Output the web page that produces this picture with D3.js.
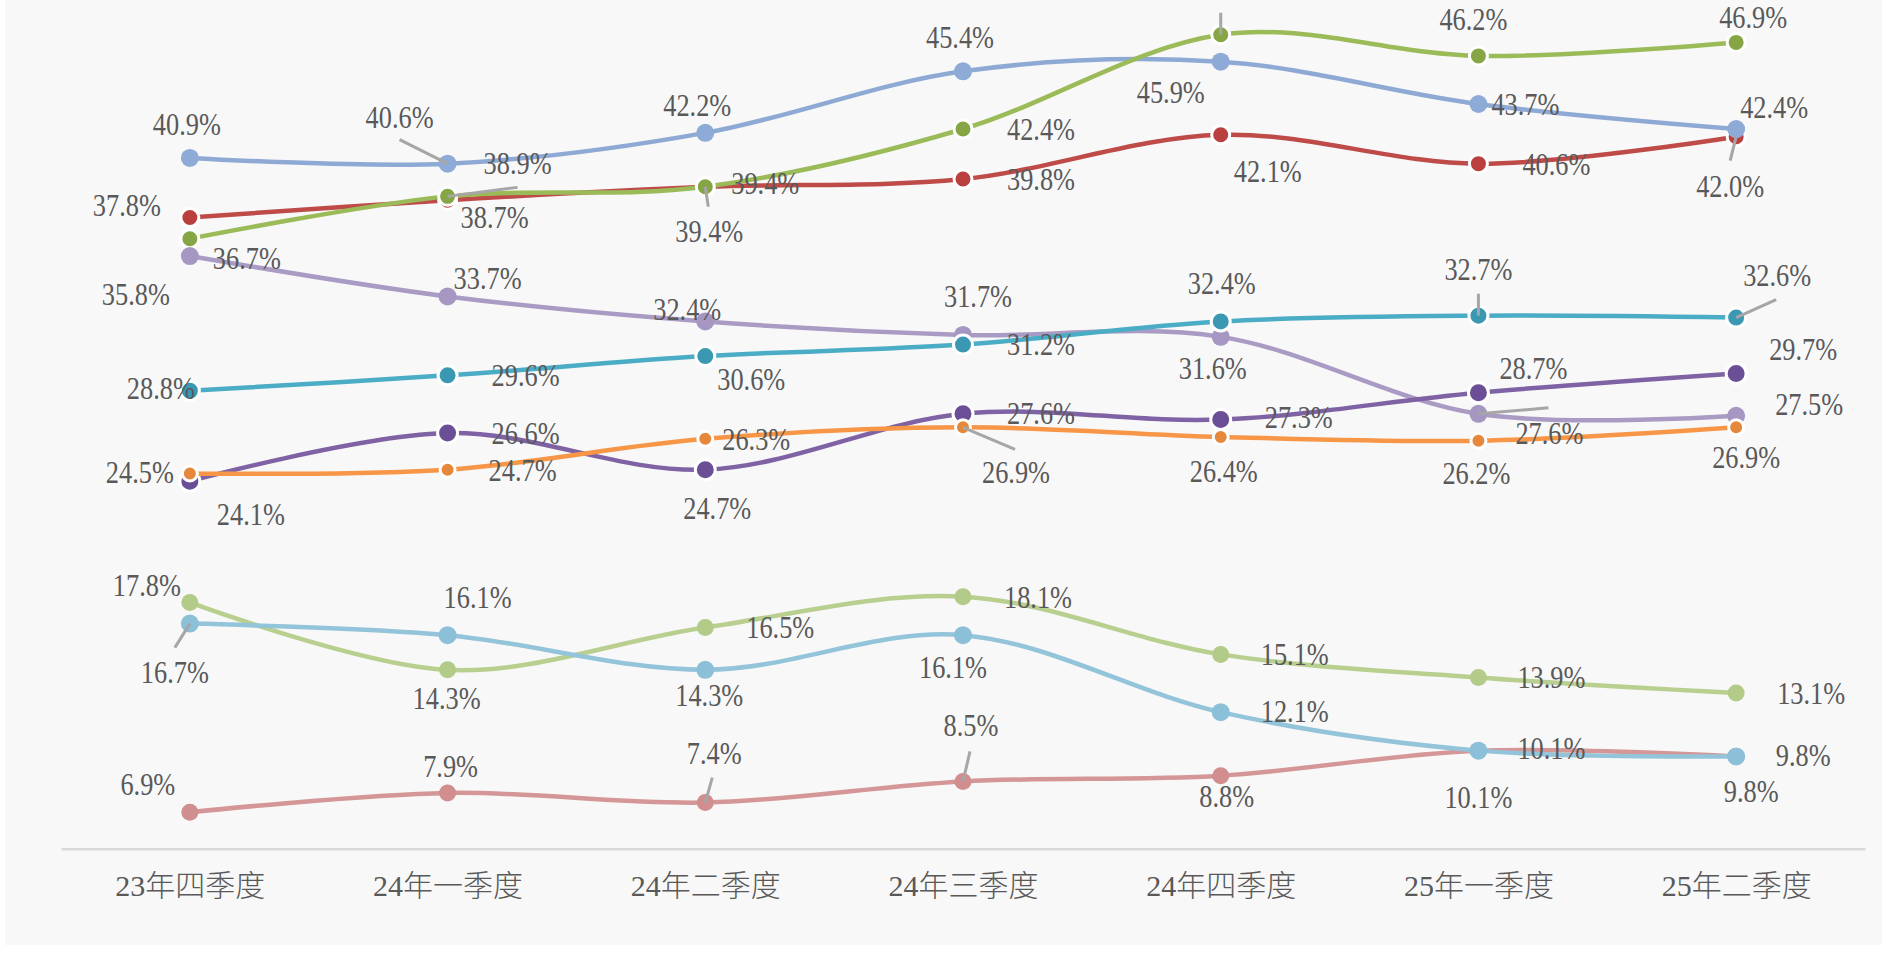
<!DOCTYPE html>
<html>
<head>
<meta charset="utf-8">
<script src="https://cdn.jsdelivr.net/npm/d3@7"></script>
<style>
  body { margin: 0; background: #ffffff; }
  text { font-family: "Liberation Serif", "Noto Sans CJK SC", serif; fill: #595959; }
</style>
</head>
<body>
<div id="chart"></div>
<script>
// categories and series values (percent)
const categories = ["23年四季度", "24年一季度", "24年二季度", "24年三季度", "24年四季度", "25年一季度", "25年二季度"];
const blueValues      = [40.9, 40.6, 42.2, 45.4, 45.9, 43.7, 42.4];
const redValues       = [37.8, 38.7, 39.4, 39.8, 42.1, 40.6, 42.0];
const greenValues     = [36.7, 38.9, 39.4, 42.4, 47.3, 46.2, 46.9];
const lavenderValues  = [35.8, 33.7, 32.4, 31.7, 31.6, 27.6, 27.5];
const tealValues      = [28.8, 29.6, 30.6, 31.2, 32.4, 32.7, 32.6];
const purpleValues    = [24.1, 26.6, 24.7, 27.6, 27.3, 28.7, 29.7];
const orangeValues    = [24.5, 24.7, 26.3, 26.9, 26.4, 26.2, 26.9];
const lightGreenValues = [17.8, 14.3, 16.5, 18.1, 15.1, 13.9, 13.1];
const lightBlueValues = [16.7, 16.1, 14.3, 16.1, 12.1, 10.1, 9.8];
const pinkValues      = [6.9, 7.9, 7.4, 8.5, 8.8, 10.1, 9.8];

// where each data label sits, relative to its point (px); null = label falls outside the chart
const blueLabelPos      = [[-3,-34],[-48,-47],[-8,-28],[-3,-34],[-50,30],[47,0],[38,-22]];
const redLabelPos       = [[-63,-12],[47,17],[60,-4],[78,0],[47,36],[78,0],[-6,49]];
const greenLabelPos     = [[57,19],[70,-33],[4,44],[78,0],null,[-5,-37],[17,-25]];
const lavenderLabelPos  = [[-54,38],[40,-18],[-18,-12],[15,-39],[-8,31],[71,19],[73,-12]];
const tealLabelPos      = [[-29,-3],[78,0],[46,23],[78,0],[1,-38],[0,-47],[41,-42]];
const purpleLabelPos    = [[61,33],[78,0],[12,38],[78,-1],[78,-2],[55,-25],[67,-24]];
const orangeLabelPos    = [[-50,-1],[75,0],[51,0],[53,45],[3,34],[-2,32],[10,30]];
const lightGreenLabelPos = [[-43,-17],[-1,28],[75,0],[75,0],[74,0],[73,0],[75,0]];
const lightBlueLabelPos = [[-15,49],[30,-38],[4,25],[-10,32],[74,-1],[73,-2],[67,-1]];
const pinkLabelPos      = [[-42,-28],[3,-27],[9,-49],[8,-56],[6,20],[0,47],[15,35]];

// leader lines: point index -> end of the leader, relative to the point
const blueLeaders = {1: [-48,-24]};
const redLeaders = {6: [-6,24]};
const greenLeaders = {1: [70,-9], 2: [3,20], 4: [0,-22]};
const lavenderLeaders = {5: [70,-6]};
const tealLeaders = {5: [0,-22], 6: [40,-18]};
const orangeLeaders = {3: [52,22]};
const lightBlueLeaders = {0: [-15,24]};
const pinkLeaders = {2: [7,-25], 3: [7,-30]};

const series = [
  {values: redValues, line: "#be4b48", dot: "#b9403e", r: 9, ring: true, labels: redLabelPos, leaders: redLeaders},
  {values: blueValues, line: "#8eaad4", dot: "#8eaad6", r: 9, ring: false, labels: blueLabelPos, leaders: blueLeaders},
  {values: greenValues, line: "#9bbb59", dot: "#86a646", r: 9, ring: true, labels: greenLabelPos, leaders: greenLeaders},
  {values: lavenderValues, line: "#a99bc4", dot: "#a597c1", r: 9, ring: false, labels: lavenderLabelPos, leaders: lavenderLeaders},
  {values: tealValues, line: "#4bacc6", dot: "#3a98b2", r: 9.5, ring: true, labels: tealLabelPos, leaders: tealLeaders},
  {values: purpleValues, line: "#7f62a3", dot: "#6b4f96", r: 10, ring: true, labels: purpleLabelPos, leaders: {}},
  {values: orangeValues, line: "#f79646", dot: "#e5883c", r: 7.5, ring: true, labels: orangeLabelPos, leaders: orangeLeaders},
  {values: pinkValues, line: "#d49696", dot: "#d08e8e", r: 8.5, ring: false, labels: pinkLabelPos, leaders: pinkLeaders},
  {values: lightGreenValues, line: "#b9cf8f", dot: "#b3cb88", r: 8.5, ring: false, labels: lightGreenLabelPos, leaders: {}},
  {values: lightBlueValues, line: "#93c4da", dot: "#8cc0d8", r: 9, ring: false, labels: lightBlueLabelPos, leaders: lightBlueLeaders}
];

const W = 1887, H = 974;
const svg = d3.select("#chart").append("svg")
    .attr("width", W)
    .attr("height", H);

// plot background
svg.append("rect")
    .attr("x", 5).attr("y", 0)
    .attr("width", 1877).attr("height", 945)
    .attr("fill", "#f8f8f8");

const x = d3.scalePoint()
  .domain(categories)
  .range([61, 1865])
  .padding(0.5);

const y = d3.scaleLinear()
  .domain([0, 49])
  .range([945, 2]);

// category axis
const xAxis = svg.append("g")
    .attr("transform", `translate(0,${y(5)})`)
    .call(d3.axisBottom(x).tickSize(0).tickSizeOuter(0));
xAxis.select(".domain")
    .attr("stroke", "#d9d9d9")
    .attr("stroke-width", 2.5);
xAxis.selectAll("text")
    .attr("y", 37)
    .attr("dy", "0.35em")
    .style("font-size", "30px")
    .style("font-weight", "300")
    .style("fill", "#595959")
    .style("font-family", "\"Liberation Serif\", \"Noto Sans CJK SC\", serif");

const line = d3.line()
  .x((d, i) => x(categories[i]))
  .y(d => y(d))
  .curve(d3.curveCatmullRom.alpha(0));

// lines and markers
series.forEach(s => {
  const g = svg.append("g");
  g.append("path")
    .datum(s.values)
    .attr("fill", "none")
    .attr("stroke", s.line)
    .attr("stroke-width", 4.5)
    .attr("stroke-linecap", "round")
    .attr("d", line);
  g.selectAll("circle")
    .data(s.values)
    .enter().append("circle")
    .attr("cx", (d, i) => x(categories[i]))
    .attr("cy", d => y(d))
    .attr("r", s.r)
    .attr("fill", s.dot)
    .attr("stroke", s.ring ? "#ffffff" : "none")
    .attr("stroke-width", 3);
});

// leader lines
series.forEach(s => {
  Object.keys(s.leaders).forEach(k => {
    const i = +k, off = s.leaders[k];
    const px = x(categories[i]), py = y(s.values[i]);
    svg.append("line")
      .attr("x1", px).attr("y1", py)
      .attr("x2", px + off[0]).attr("y2", py + off[1])
      .attr("stroke", "#a6a6a6")
      .attr("stroke-width", 3);
  });
});

// data labels
const fmt = d3.format(".1f");
series.forEach(s => {
  const shown = s.values.map((v, i) => ({v, i})).filter(d => s.labels[d.i]);
  svg.append("g").selectAll("text")
    .data(shown)
    .enter().append("text")
    .attr("transform", d => {
      const px = x(categories[d.i]) + s.labels[d.i][0];
      const py = y(d.v) + s.labels[d.i][1];
      return `translate(${px},${py}) scale(0.85,1)`;
    })
    .attr("text-anchor", "middle")
    .attr("dy", "0.35em")
    .style("font-size", "31px")
    .text(d => fmt(d.v) + "%");
});
</script>
</body>
</html>
